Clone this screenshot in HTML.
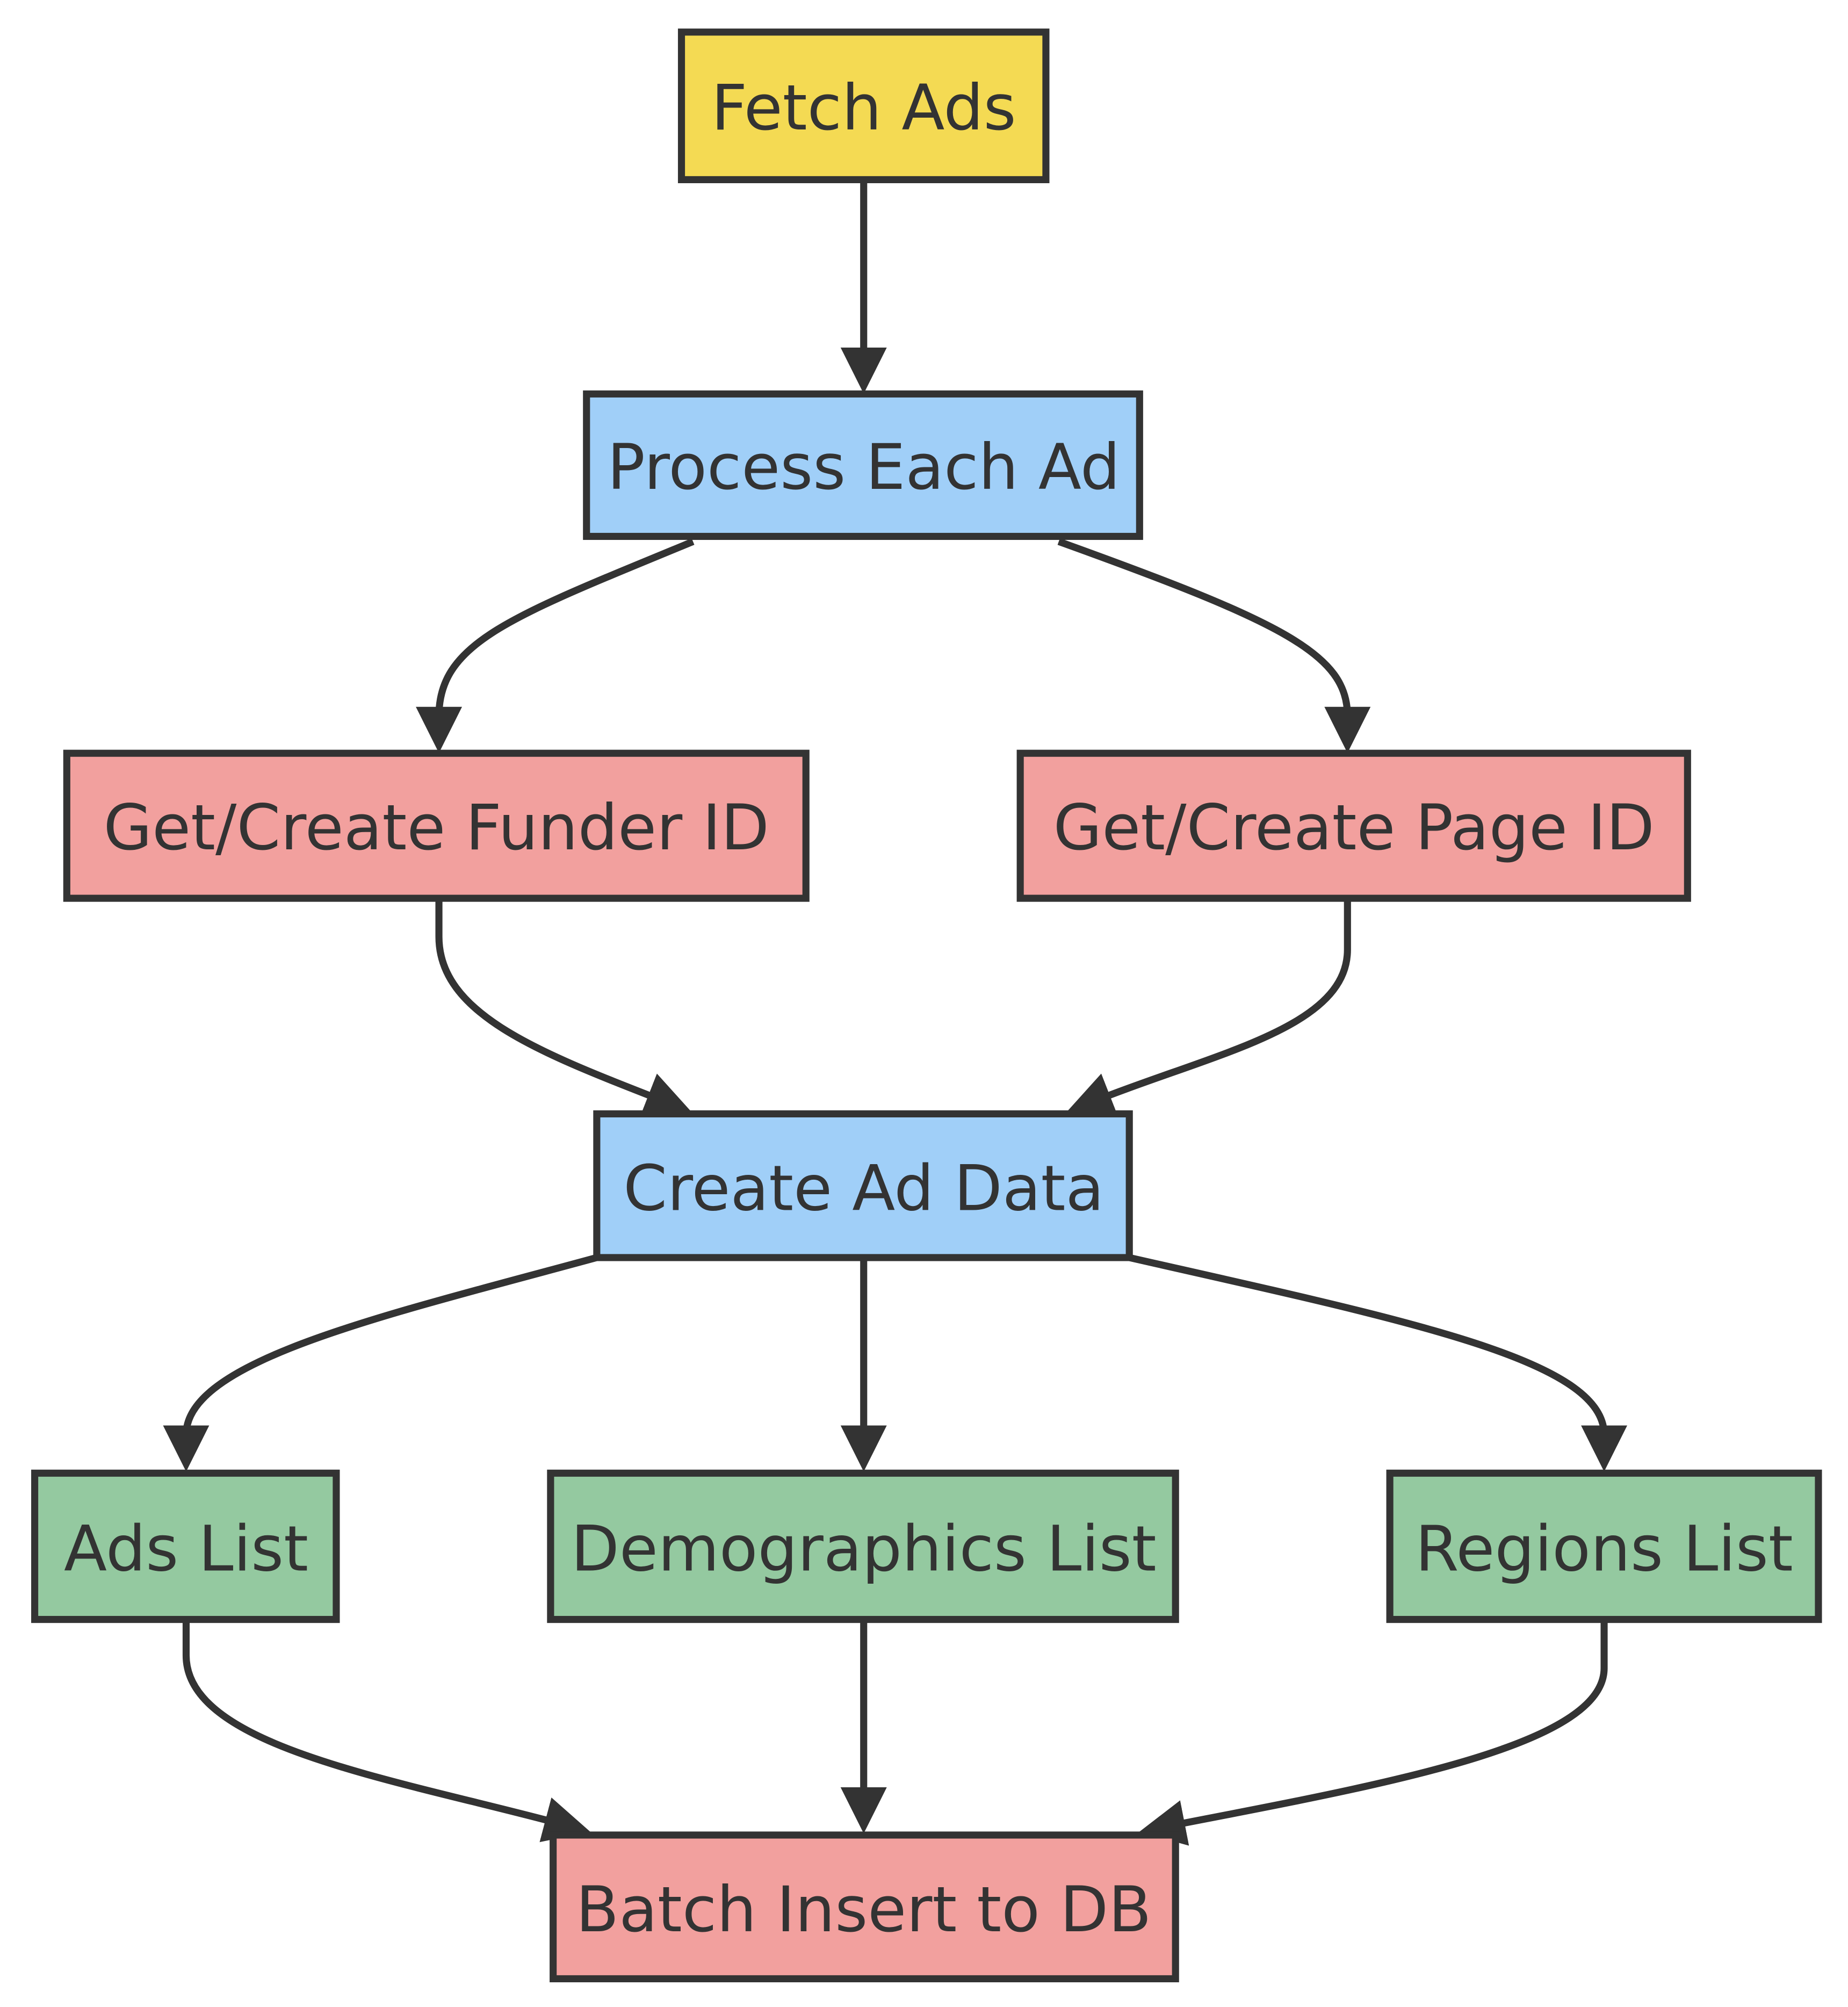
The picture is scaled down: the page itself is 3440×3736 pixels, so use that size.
<!DOCTYPE html>
<html><head><meta charset="utf-8"><style>
html,body{margin:0;padding:0;background:#fff;}
svg{display:block;}
text{font-family:"DejaVu Sans","Liberation Sans",sans-serif;font-size:49px;fill:#333;text-anchor:middle;dominant-baseline:central;}
.n{stroke:#333;stroke-width:5.5;}
.e{fill:none;stroke:#333;stroke-width:5.5;marker-end:url(#a);}
</style></head><body>
<svg width="3440" height="3736" viewBox="0 0 1440 1564" xmlns="http://www.w3.org/2000/svg">
<defs>
<marker id="a" markerUnits="userSpaceOnUse" markerWidth="36" markerHeight="36" viewBox="0 0 10 10" refX="2" refY="5" orient="auto">
<path d="M0,0 L10,5 L0,10 z" fill="#333"/>
</marker>
</defs>
<rect fill="#fff" width="1440" height="1564"/>
<path class="e" d="M673,140 L673,278"/>
<path class="e" d="M540,422 C400,480 342,500 342,558"/>
<path class="e" d="M825,422 C1000,485 1050,510 1050,558"/>
<path class="e" d="M342,700 L342,730 C342,790 420,820 512,856"/>
<path class="e" d="M1050,700 L1050,740 C1050,800 950,820 858,856"/>
<path class="e" d="M465,980 C300,1025 145,1060 145,1118"/>
<path class="e" d="M673,980 L673,1118"/>
<path class="e" d="M880,980 C1100,1030 1250,1060 1250,1118"/>
<path class="e" d="M145,1262 L145,1290 C145,1360 300,1385 432,1420"/>
<path class="e" d="M673,1262 L673,1400"/>
<path class="e" d="M1250,1262 L1250,1300 C1250,1360 1080,1390 916,1422"/>

<rect class="n" fill="#f4da53" x="531" y="25" width="284" height="115"/>
<text x="673" y="84">Fetch Ads</text>
<rect class="n" fill="#a0cff8" x="457" y="307" width="431" height="111"/>
<text x="673" y="364">Process Each Ad</text>
<rect class="n" fill="#f2a09e" x="52" y="587" width="576" height="113"/>
<text x="340" y="645">Get/Create Funder ID</text>
<rect class="n" fill="#f2a09e" x="795" y="587" width="520" height="113"/>
<text x="1055" y="645">Get/Create Page ID</text>
<rect class="n" fill="#a0cff8" x="465" y="868" width="415" height="112"/>
<text x="673" y="926">Create Ad Data</text>
<rect class="n" fill="#94c9a0" x="27" y="1148" width="235" height="114"/>
<text x="145" y="1207">Ads List</text>
<rect class="n" fill="#94c9a0" x="429" y="1148" width="487" height="114"/>
<text x="673" y="1207">Demographics List</text>
<rect class="n" fill="#94c9a0" x="1083" y="1148" width="334" height="114"/>
<text x="1250" y="1207">Regions List</text>
<rect class="n" fill="#f2a09e" x="431" y="1430" width="485" height="112"/>
<text x="673" y="1488">Batch Insert to DB</text>
</svg>
</body></html>
